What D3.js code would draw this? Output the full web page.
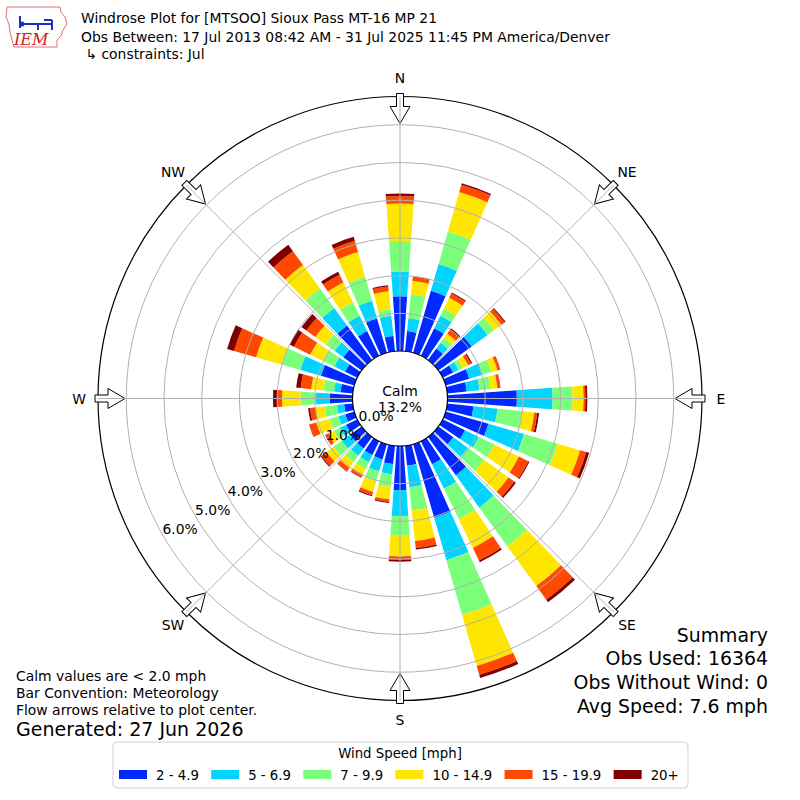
<!DOCTYPE html>
<html>
<head>
<meta charset="utf-8">
<script src="https://cdn.jsdelivr.net/npm/d3@7/dist/d3.min.js"></script>
<style>
  body { margin: 0; background: #fff; }
  text { font-family: "DejaVu Sans", sans-serif; fill: #000; }
</style>
</head>
<body>
<script>
// Directions (deg, meteorological) and percent of obs per speed bin
const directions = d3.range(0, 360, 10);
const speedBins = ['2 - 4.9', '5 - 6.9', '7 - 9.9', '10 - 14.9', '15 - 19.9', '20+'];
const binColors = ['#0028ff', '#00d4ff', '#7bff7b', '#ffe600', '#ff4800', '#800000'];

const bin2to5 = [1.45, 0.54, 1.71, 0.81, 0.38, 1.09, 0.31, 0.65, 0.52, 1.84, 0.70, 1.18,
  0.66, 0.49, 1.26, 0.68, 2.03, 0.53, 1.17, 0.49, 0.42, 0.41, 0.38, 0.38,
  0.33, 0.25, 0.23, 0.61, 0.33, 0.92, 0.36, 0.60, 1.13, 0.73, 0.95, 0.41];
const bin5to7 = [0.66, 0.34, 0.74, 0.37, 0.19, 0.52, 0.16, 0.37, 0.34, 0.95, 0.64, 0.98,
  0.41, 0.48, 1.06, 0.72, 1.17, 0.58, 0.69, 0.27, 0.33, 0.21, 0.24, 0.27,
  0.19, 0.19, 0.19, 0.36, 0.17, 0.57, 0.32, 0.29, 0.58, 0.45, 0.49, 0.54];
const bin7to10 = [0.81, 0.64, 0.90, 0.21, 0.15, 0.21, 0.12, 0.24, 0.29, 0.53, 0.66, 0.93,
  0.46, 0.53, 1.27, 0.90, 1.51, 0.62, 0.50, 0.34, 0.28, 0.20, 0.21, 0.27,
  0.17, 0.24, 0.33, 0.41, 0.28, 0.52, 0.34, 0.29, 0.64, 0.40, 0.66, 0.17];
const bin10to15 = [0.99, 0.36, 1.09, 0.32, 0.15, 0.24, 0.16, 0.17, 0.19, 0.29, 0.32, 0.62,
  0.72, 0.80, 1.30, 0.85, 1.41, 0.81, 0.57, 0.33, 0.29, 0.16, 0.19, 0.23,
  0.16, 0.37, 0.24, 0.49, 0.33, 0.70, 0.37, 0.34, 0.77, 0.58, 0.68, 0.48];
const bin15to20 = [0.20, 0.12, 0.20, 0.13, 0.13, 0.11, 0.09, 0.07, 0.07, 0.05, 0.08, 0.17,
  0.28, 0.19, 0.45, 0.37, 0.24, 0.19, 0.09, 0.07, 0.09, 0.09, 0.11, 0.17,
  0.09, 0.19, 0.15, 0.13, 0.28, 0.61, 0.48, 0.29, 0.45, 0.23, 0.31, 0.13];
const bin20up = [0.07, 0.01, 0.04, 0.03, 0.04, 0.03, 0.03, 0.01, 0.01, 0.05, 0.05, 0.08,
  0.03, 0.05, 0.08, 0.05, 0.09, 0.04, 0.05, 0.03, 0.03, 0.01, 0.01, 0.03,
  0.01, 0.01, 0.05, 0.11, 0.12, 0.19, 0.13, 0.16, 0.21, 0.09, 0.11, 0.03];

const radialTicks = [0, 1, 2, 3, 4, 5, 6];
const compassLabels = ['N', 'NE', 'E', 'SE', 'S', 'SW', 'W', 'NW'];
const calmPct = '13.2%';

const titleLines = [
  'Windrose Plot for [MTSOO] Sioux Pass MT-16 MP 21',
  'Obs Between: 17 Jul 2013 08:42 AM - 31 Jul 2025 11:45 PM America/Denver',
  ' \u21B3 constraints: Jul'
];
const noteLines = ['Calm values are < 2.0 mph', 'Bar Convention: Meteorology', 'Flow arrows relative to plot center.'];
const generated = 'Generated: 27 Jun 2026';
const summaryLines = ['Summary', 'Obs Used: 16364', 'Obs Without Wind: 0', 'Avg Speed: 7.6 mph'];

// ---- layout
const W = 800, H = 800;
const cx = 400, cy = 398.5;
const calmR = 47.5, outerR = 302;
const rMax = 6.75;

const svg = d3.select('body').append('svg').attr('width', W).attr('height', H);

const r = d3.scaleLinear().domain([0, rMax]).range([calmR, outerR]);
const rad = d => d * Math.PI / 180;

// stack bins per direction
const keys = ['b1', 'b2', 'b3', 'b4', 'b5', 'b6'];
const bins = [bin2to5, bin5to7, bin7to10, bin10to15, bin15to20, bin20up];
const rows = directions.map((dir, i) => {
  const o = { dir };
  keys.forEach((k, j) => o[k] = bins[j][i]);
  return o;
});
const series = d3.stack().keys(keys)(rows);

const g = svg.append('g').attr('transform', `translate(${cx},${cy})`);

const half = rad(4); // bars are 80% of a 10 deg sector
const arc = d3.arc()
  .innerRadius(d => r(d[0]))
  .outerRadius(d => r(d[1]))
  .startAngle(d => rad(d.data.dir) - half)
  .endAngle(d => rad(d.data.dir) + half);

// Bars
g.selectAll('g.bin')
  .data(series)
  .join('g')
  .attr('class', 'bin')
  .attr('fill', (d, i) => binColors[i])
  .selectAll('path')
  .data(d => d)
  .join('path')
  .attr('d', arc);

// Rings
g.selectAll('circle.ring')
  .data(radialTicks.slice(1))
  .join('circle')
  .attr('class', 'ring')
  .attr('r', d => r(d))
  .attr('fill', 'none')
  .attr('stroke', '#b0b0b0')
  .attr('stroke-width', 1);

// Outer boundary
g.append('circle')
  .attr('r', outerR)
  .attr('fill', 'none')
  .attr('stroke', '#000')
  .attr('stroke-width', 1.2);

// Flow arrows at compass points
const arrowPath = 'M-3.5,-305 L3.5,-305 L3.5,-292 L10,-292 L0,-275 L-10,-292 L-3.5,-292 Z';
g.selectAll('path.arrow')
  .data(d3.range(0, 360, 45))
  .join('path')
  .attr('class', 'arrow')
  .attr('d', arrowPath)
  .attr('transform', d => `rotate(${d})`)
  .attr('fill', '#fff')
  .attr('stroke', '#000')
  .attr('stroke-width', 1);

// Radial grid lines
g.selectAll('line.spoke')
  .data(d3.range(0, 360, 45))
  .join('line')
  .attr('class', 'spoke')
  .attr('x1', 0).attr('y1', 0)
  .attr('x2', d => outerR * Math.sin(rad(d)))
  .attr('y2', d => -outerR * Math.cos(rad(d)))
  .attr('stroke', '#b0b0b0')
  .attr('stroke-width', 1);

// Calm circle
g.append('circle')
  .attr('r', calmR)
  .attr('fill', '#fff')
  .attr('stroke', '#000')
  .attr('stroke-width', 1.2);

g.append('text').attr('x', 0).attr('y', -3)
  .attr('text-anchor', 'middle').style('font-size', '13.9px').text('Calm');
g.append('text').attr('x', 0).attr('y', 13)
  .attr('text-anchor', 'middle').style('font-size', '13.9px').text(calmPct);

// Radial tick labels along 240 deg
const labAng = rad(240);
g.selectAll('text.rlab')
  .data(radialTicks)
  .join('text')
  .attr('class', 'rlab')
  .attr('x', d => r(d) * Math.sin(labAng) - 0.5)
  .attr('y', d => -r(d) * Math.cos(labAng) - 1.5)
  .style('font-size', '13.9px')
  .text(d => d.toFixed(1) + '%');

// Compass labels
g.selectAll('text.compass')
  .data(compassLabels)
  .join('text')
  .attr('class', 'compass')
  .attr('x', (d, i) => 321 * Math.sin(rad(i * 45)))
  .attr('y', (d, i) => -321 * Math.cos(rad(i * 45)))
  .attr('text-anchor', 'middle')
  .attr('dominant-baseline', 'central')
  .style('font-size', '13.9px')
  .text(d => d);

// Title block
svg.selectAll('text.title')
  .data(titleLines)
  .join('text')
  .attr('class', 'title')
  .attr('x', 81)
  .attr('y', (d, i) => [23, 42, 59][i])
  .style('font-size', '13.9px')
  .style('white-space', 'pre')
  .text(d => d);

// IEM logo (rough)
const logo = svg.append('g');
logo.append('path')
  .attr('d', 'M7,7 L60,7 L61,12 L65,17 L67,24 L63,30 L61,36 L57,40 L57,47 L14,47 L12,40 L10,32 L9,24 L6,17 Z')
  .attr('fill', 'none').attr('stroke', '#e07070').attr('stroke-width', 1);
logo.append('path')
  .attr('d', 'M20,24 L52,24 M38,24 L38,30 M52,20 L52,30 M20,16 L20,28 M44,20 L52,20')
  .attr('fill', 'none').attr('stroke', '#1a2fbf').attr('stroke-width', 2);
logo.append('circle').attr('cx', 22).attr('cy', 24).attr('r', 2.5).attr('fill', '#1a2fbf');
logo.append('text')
  .attr('x', 14).attr('y', 45)
  .style('font-family', '"DejaVu Serif", "Liberation Serif", serif')
  .style('font-style', 'italic')
  .style('font-size', '16px')
  .style('fill', '#d42020')
  .text('IEM');

// Notes bottom-left
svg.selectAll('text.note')
  .data(noteLines)
  .join('text')
  .attr('class', 'note')
  .attr('x', 16)
  .attr('y', (d, i) => 681 + i * 17)
  .style('font-size', '13.9px')
  .text(d => d);
svg.append('text').attr('x', 16).attr('y', 736)
  .style('font-size', '19px').text(generated);

// Summary bottom-right
svg.selectAll('text.summary')
  .data(summaryLines)
  .join('text')
  .attr('class', 'summary')
  .attr('x', 768)
  .attr('y', (d, i) => 641.5 + i * 23.7)
  .attr('text-anchor', 'end')
  .style('font-size', '18.9px')
  .text(d => d);

// Legend
const leg = svg.append('g');
leg.append('rect')
  .attr('x', 113).attr('y', 742).attr('width', 575).attr('height', 46)
  .attr('rx', 4).attr('fill', '#fff').attr('stroke', '#d0d0d0');
leg.append('text').attr('x', 400).attr('y', 757.5)
  .attr('text-anchor', 'middle').style('font-size', '13.3px').text('Wind Speed [mph]');
let lx = 119;
speedBins.forEach((label, i) => {
  leg.append('rect').attr('x', lx).attr('y', 770).attr('width', 28).attr('height', 9)
    .attr('fill', binColors[i]);
  const t = leg.append('text').attr('x', lx + 37).attr('y', 779.5)
    .style('font-size', '13.3px').text(label);
  lx += 37 + t.node().getComputedTextLength() + 12.3;
});
</script>
</body>
</html>
